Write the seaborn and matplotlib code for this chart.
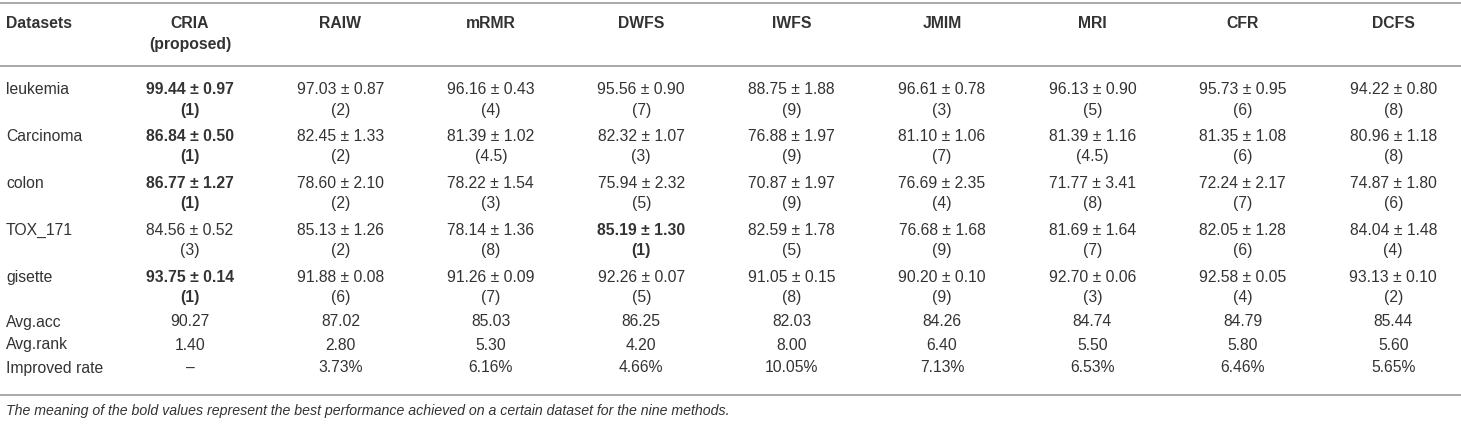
import matplotlib
matplotlib.use("Agg")
import matplotlib.pyplot as plt
import seaborn as sns
import numpy as np

# table content
methods = ["CRIA", "RAIW", "mRMR", "DWFS", "IWFS", "JMIM", "MRI", "CFR", "DCFS"]
method_notes = ["(proposed)", "", "", "", "", "", "", "", ""]
datasets = ["leukemia", "Carcinoma", "colon", "TOX_171", "gisette"]

acc_mean = [
    [99.44, 97.03, 96.16, 95.56, 88.75, 96.61, 96.13, 95.73, 94.22],
    [86.84, 82.45, 81.39, 82.32, 76.88, 81.10, 81.39, 81.35, 80.96],
    [86.77, 78.60, 78.22, 75.94, 70.87, 76.69, 71.77, 72.24, 74.87],
    [84.56, 85.13, 78.14, 85.19, 82.59, 76.68, 81.69, 82.05, 84.04],
    [93.75, 91.88, 91.26, 92.26, 91.05, 90.20, 92.70, 92.58, 93.13],
]
acc_std = [
    [0.97, 0.87, 0.43, 0.90, 1.88, 0.78, 0.90, 0.95, 0.80],
    [0.50, 1.33, 1.02, 1.07, 1.97, 1.06, 1.16, 1.08, 1.18],
    [1.27, 2.10, 1.54, 2.32, 1.97, 2.35, 3.41, 2.17, 1.80],
    [0.52, 1.26, 1.36, 1.30, 1.78, 1.68, 1.64, 1.28, 1.48],
    [0.14, 0.08, 0.09, 0.07, 0.15, 0.10, 0.06, 0.05, 0.10],
]
ranks = [
    ["1", "2", "4", "7", "9", "3", "5", "6", "8"],
    ["1", "2", "4.5", "3", "9", "7", "4.5", "6", "8"],
    ["1", "2", "3", "5", "9", "4", "8", "7", "6"],
    ["3", "2", "8", "1", "5", "9", "7", "6", "4"],
    ["1", "6", "7", "5", "8", "9", "3", "4", "2"],
]
avg_acc = ["90.27", "87.02", "85.03", "86.25", "82.03", "84.26", "84.74", "84.79", "85.44"]
avg_rank = ["1.40", "2.80", "5.30", "4.20", "8.00", "6.40", "5.50", "5.80", "5.60"]
improved = ["\u2013", "3.73%", "6.16%", "4.66%", "10.05%", "7.13%", "6.53%", "6.46%", "5.65%"]
summary_labels = ["Avg.acc", "Avg.rank", "Improved rate"]
caption = ("The meaning of the bold values represent the best performance "
           "achieved on a certain dataset for the nine methods.")

sns.set_theme(style="white")
plt.rcParams['font.family'] = ['Liberation Sans', 'DejaVu Sans']

W, H = 1461, 430
fig = plt.figure(figsize=(W / 100, H / 100), dpi=100)
ax = fig.add_axes([0, 0, 1, 1])
ax.set_xlim(0, W)
ax.set_ylim(H, 0)
ax.axis("off")

txt = "#333333"
rule = "#a8a8a8"
fs = 11.3

col_x = 190 + np.arange(len(methods)) * 150.4
left_x = 6

# rules
for y in (3, 66, 395):
    ax.plot([0, W], [y, y], color=rule, lw=1.4, solid_capstyle="butt")

# header
ax.text(left_x, 23, "Datasets", ha="left", va="center", fontsize=fs,
        fontweight="bold", color=txt)
for x, m, note in zip(col_x, methods, method_notes):
    ax.text(x, 23, m, ha="center", va="center", fontsize=fs,
            fontweight="bold", color=txt)
    if note:
        ax.text(x, 45, note, ha="center", va="center", fontsize=fs,
                fontweight="bold", color=txt)

# dataset rows
row_y0, row_step, rank_dy = 90, 46.8, 20
for i, name in enumerate(datasets):
    y = row_y0 + i * row_step
    ax.text(left_x, y, name, ha="left", va="center", fontsize=fs, color=txt)
    for j, x in enumerate(col_x):
        best = ranks[i][j] == "1"
        w = "bold" if best else "normal"
        ax.text(x, y, f"{acc_mean[i][j]:.2f} \u00b1 {acc_std[i][j]:.2f}",
                ha="center", va="center", fontsize=fs, fontweight=w, color=txt)
        ax.text(x, y + rank_dy, f"({ranks[i][j]})", ha="center", va="center",
                fontsize=fs, fontweight=w, color=txt)

# summary rows
sum_y = [322, 345, 368]
for y, label, vals in zip(sum_y, summary_labels, [avg_acc, avg_rank, improved]):
    ax.text(left_x, y, label, ha="left", va="center", fontsize=fs, color=txt)
    for x, v in zip(col_x, vals):
        ax.text(x, y, v, ha="center", va="center", fontsize=fs, color=txt)

ax.text(left_x, 411, caption, ha="left", va="center", fontsize=10.2,
        style="italic", color=txt)

fig.savefig("out.png", dpi=100)
